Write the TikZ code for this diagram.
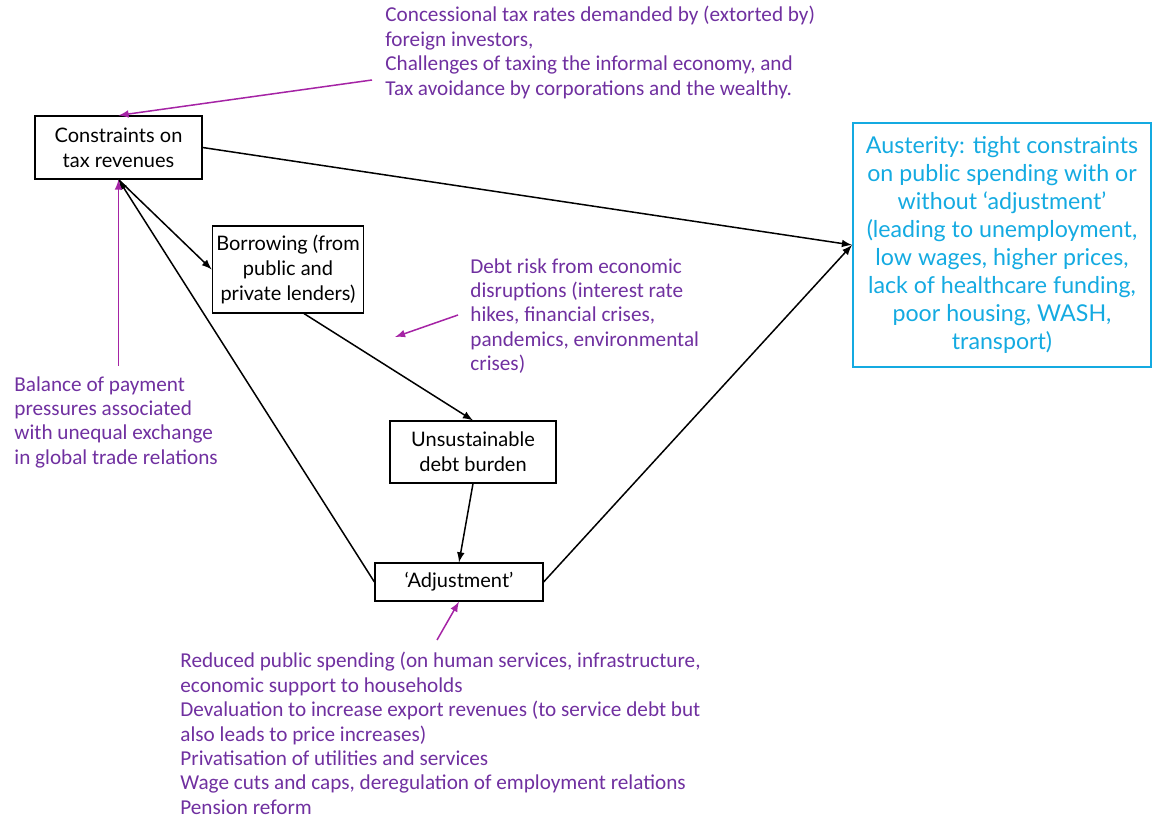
\documentclass[tikz,border=0pt]{standalone}
\usepackage{fontspec}
\setmainfont{Lato}
\newfontfamily\notefont{Carlito}
\usetikzlibrary{arrows}
\definecolor{notepurple}{RGB}{112,48,160}
\definecolor{arrowpurple}{RGB}{165,35,165}
\definecolor{austblue}{RGB}{20,170,225}
\tikzstyle{diagram}=[x=0.5pt, y=-0.5pt, font=\fontsize{10}{12.5}\selectfont]
\tikzstyle{stage}=[rectangle, draw, line width=0.6pt, align=center, inner sep=2pt]
\tikzstyle{outcome}=[rectangle, draw=austblue, text=austblue, line width=1pt, align=center, minimum width=149pt, minimum height=122pt, font=\fontsize{11.6}{14}\selectfont]
\tikzstyle{note}=[anchor=north west, inner sep=0pt, align=left, text=notepurple, font=\notefont\fontsize{10.6}{12.2}\selectfont]
\tikzstyle{edge}=[-latex, line width=0.75pt]
\tikzstyle{cause}=[-latex, line width=0.75pt, draw=arrowpurple]

\begin{document}
\begin{tikzpicture}[diagram]
	\useasboundingbox (0,0) rectangle (1152,818);
	%The boxes
	\node[stage, minimum width=83.5pt, minimum height=31.5pt] (cons) at (118.5,147.5) {Constraints on\\tax revenues};
	\node[stage, minimum width=70pt, minimum height=43.5pt] (borrow) at (288,269.5) {Borrowing (from\\public and\\private lenders)};
	\node[stage, minimum width=83pt, minimum height=31pt] (debt) at (473,452) {Unsustainable\\debt burden};
	\node[stage, minimum width=84pt, minimum height=19pt] (adjust) at (459,582) {`Adjustment'};
	\node[outcome] (aust) at (1002,245) {Austerity: tight constraints\\on public spending with or\\without `adjustment'\\(leading to unemployment,\\low wages, higher prices,\\lack of healthcare funding,\\poor housing, WASH,\\transport)};
	
	%The notes
	\node[note] (taxnote) at (385,6) {Concessional tax rates demanded by (extorted by)\\foreign investors,\\Challenges of taxing the informal economy, and\\Tax avoidance by corporations and the wealthy.};
	\node[note] (risknote) at (470,258) {Debt risk from economic\\disruptions (interest rate\\hikes, financial crises,\\pandemics, environmental\\crises)};
	\node[note] (bopnote) at (14,376) {Balance of payment\\pressures associated\\with unequal exchange\\in global trade relations};
	\node[note] (adjnote) at (180,652) {Reduced public spending (on human services, infrastructure,\\economic support to households\\Devaluation to increase export revenues (to service debt but\\also leads to price increases)\\Privatisation of utilities and services\\Wage cuts and caps, deregulation of employment relations\\Pension reform};
	
	%The flows
	\draw[edge] (cons.east) -- (aust.west);
	\draw[edge] (cons.south) -- (borrow.west);
	\draw[edge] (borrow.-70) -- (debt.north);
	\draw[edge] (debt.south) -- (adjust.north);
	\draw[edge] (adjust.west) -- (cons.south);
	\draw[edge] (adjust.east) -- (aust.west);
	
	%The pressures
	\coordinate (taxtail) at (372,80);
	\coordinate (boptail) at (118.5,366);
	\coordinate (risktail) at (458,315);
	\coordinate (riskhead) at (395,337);
	\coordinate (adjtail) at (437,640);
	\draw[cause] (taxtail) -- (cons.north);
	\draw[cause] (boptail) -- (cons.south);
	\draw[cause] (risktail) -- (riskhead);
	\draw[cause] (adjtail) -- (adjust.south);
\end{tikzpicture}
\end{document}
